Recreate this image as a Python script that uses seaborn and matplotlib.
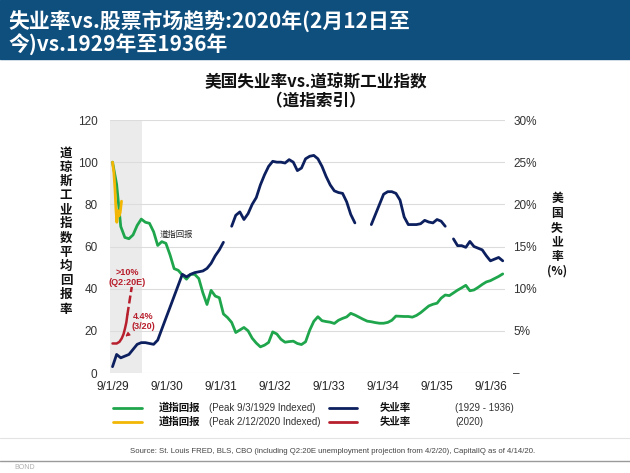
import numpy as np
import pandas as pd
import matplotlib
matplotlib.use("Agg")
import matplotlib.pyplot as plt
import seaborn as sns
from matplotlib.lines import Line2D
from matplotlib.patches import Rectangle

# ---------------- data ----------------
# sample times, months since the 9/3/1929 Dow peak (evenly spaced readings, ~0.91 month apart)
months_1929 = list(np.round(np.linspace(0, 86.7, 96), 2))
dow_1929 = [100, 89.5, 69.5, 64.3, 63.7, 65.5, 70, 73, 71.5, 71, 67, 60.5, 62.3, 61.5, 56, 49.5,
            48.7, 46.5, 44.5, 46.8, 46.8, 44.8, 38, 32.5, 39.2, 36.5, 35.7, 28, 26.3, 24, 19.2, 20.4,
            21.6, 20, 16.5, 14.2, 12.4, 13.2, 14.5, 19.5, 18.5, 16, 14.6, 14.9, 15.1, 14, 13.5, 14.8,
            20.3, 24.5, 26.7, 24.8, 24.4, 24.1, 23.5, 25, 25.9, 26.6, 28.3, 27.5, 26.5, 25.5, 24.6, 24.3,
            23.9, 23.6, 23.6, 24, 25, 27, 26.9, 26.8, 26.8, 26.5, 27.3, 28.6, 30.2, 31.8, 32.6, 33.1,
            35.5, 37, 36.7, 38, 39.3, 40.4, 41.6, 39, 39.4, 40.6, 42, 43.2, 43.8, 44.8, 45.8, 47]
nan = np.nan
unemp_1929 = [0.75, 2.2, 1.8, 2.0, 2.2, 2.8, 3.4, 3.6, 3.6, 3.5, 3.4, 3.9, 5.2, 6.5, 7.8, 9.1,
              10.4, 11.7, 11.4, 11.7, 11.9, 12.0, 12.1, 12.4, 13.0, 13.9, 14.6, 15.5, nan, 17.4, 18.7, 19.1,
              18.2, 18.9, 20.0, 20.8, 22.3, 23.5, 24.5, 25.1, 25.0, 25.0, 24.9, 25.3, 25.0, 24.0, 24.3, 25.4,
              25.7, 25.8, 25.4, 24.5, 23.3, 22.3, 21.6, 21.4, 21.3, 20.3, 18.8, 17.8, nan, nan, nan, 17.6,
              18.8, 20.0, 21.2, 21.5, 21.5, 21.3, 20.5, 18.5, 17.6, 17.6, 17.6, 17.7, 18.1, 17.9, 17.8, 18.2,
              18.0, 17.4, nan, 15.9, 15.1, 15.1, 14.9, 15.6, 15.0, 14.8, 14.6, 13.9, 13.3, 13.5, 13.7, 13.3]

# 2020 series, months since the 2/12/2020 peak
months_dow_2020 = [0, 0.3, 0.55, 0.75, 0.95, 1.2, 1.45, 1.7, 2.0]
dow_2020 = [100, 95, 87, 78, 71.5, 77, 74.5, 76, 81.5]
months_unemp_2020 = [0, 0.5, 0.93, 1.55, 2.04, 2.44, 2.78, 3.07, 3.3]
unemp_2020 = [3.5, 3.5, 3.5, 3.7, 4.1, 4.6, 5.3, 6.0, 6.9]
months_unemp_proj = [3.3, 4.27]
unemp_proj = [6.9, 10.2]

shade_span = [-0.56, 6.55]          # 2020 period shading (months)
xtick_months = [0, 12, 24, 36, 48, 60, 72, 84]
xtick_labels = ["9/1/29", "9/1/30", "9/1/31", "9/1/32", "9/1/33", "9/1/34", "9/1/35", "9/1/36"]
left_ticks = [0, 20, 40, 60, 80, 100, 120]
right_ticks = [0, 5, 10, 15, 20, 25, 30]
right_labels = ["–", "5%", "10%", "15%", "20%", "25%", "30%"]

# ---------------- style ----------------
GREEN = "#1fa64c"
NAVY = "#0c1f5e"
YELLOW = "#f2b705"
RED = "#b81f2d"
BANNER = "#0f4f7e"
CJK = ["Noto Sans CJK SC", "DejaVu Sans"]
LAT = ["Liberation Sans", "Noto Sans CJK SC", "DejaVu Sans"]

sns.set_theme(style="white")
plt.rcParams["font.family"] = LAT

W, H = 630, 473
fig = plt.figure(figsize=(W / 100, H / 100), dpi=100)
fig.patch.set_facecolor("white")

ax = fig.add_axes([110 / W, 1 - 373 / H, 395 / W, 253 / H])
ax2 = ax.twinx()

df29 = pd.DataFrame({"month": months_1929, "dow": dow_1929, "unemp": unemp_1929})
df29["seg"] = df29["unemp"].isna().cumsum()
dfu = df29.dropna(subset=["unemp"])
dfd20 = pd.DataFrame({"month": months_dow_2020, "dow": dow_2020})
dfu20 = pd.DataFrame({"month": months_unemp_2020, "unemp": unemp_2020})
dfp20 = pd.DataFrame({"month": months_unemp_proj, "unemp": unemp_proj})

ax.axvspan(shade_span[0], shade_span[1], color="#ebebeb", zorder=0, lw=0)
sns.lineplot(data=df29, x="month", y="dow", color=GREEN, lw=2.0, ax=ax, legend=False)
sns.lineplot(data=dfd20, x="month", y="dow", color=YELLOW, lw=2.0, ax=ax, legend=False)
sns.lineplot(data=dfu, x="month", y="unemp", units="seg", estimator=None, color=NAVY, lw=2.0,
             ax=ax2, legend=False)
sns.lineplot(data=dfu20, x="month", y="unemp", color=RED, lw=1.8, ax=ax2, legend=False)
sns.lineplot(data=dfp20, x="month", y="unemp", color=RED, lw=1.8, ax=ax2, legend=False,
             dashes=False, linestyle=(0, (3.2, 1.4)))

for a in (ax, ax2):
    a.set_xlim(-0.56, 87.2)
    for s in a.spines.values():
        s.set_visible(False)
    a.set_xlabel("")
    a.set_ylabel("")
ax.set_ylim(0, 120)
ax2.set_ylim(0, 30)
ax.set_yticks(left_ticks)
ax.set_yticklabels([str(t) for t in left_ticks])
ax2.set_yticks(right_ticks)
ax2.set_yticklabels(right_labels)
ax.set_xticks(xtick_months)
ax.set_xticklabels(xtick_labels)
ax.grid(axis="y", color="#dcdcdc", lw=0.8)
ax.grid(axis="x", visible=False)
ax2.grid(False)
ax.tick_params(axis="y", length=0, pad=9, labelsize=8.5, labelcolor="#333333")
ax.tick_params(axis="x", length=0, pad=6, labelsize=8.5, labelcolor="#222222")
ax2.tick_params(axis="y", length=0, pad=6, labelsize=8.5, labelcolor="#333333")
ax.set_zorder(1)
ax2.set_zorder(2)
ax.patch.set_visible(False)

# annotations
ax.text(10.55, 65.7, "道指回报", fontsize=6, color="#222222", family=CJK, va="center", ha="left")
ax2.text(3.33, 11.3, ">10%\n(Q2:20E)", fontsize=6.5, color=RED, fontweight="bold",
         ha="center", va="center", linespacing=1.1)
ax2.annotate("4.4%\n(3/20)", xy=(2.85, 4.3), xytext=(6.8, 6.1), fontsize=6.5, color=RED,
             fontweight="bold", ha="center", va="center", linespacing=1.1,
             arrowprops=dict(arrowstyle="-|>", color=RED, lw=0.9, linestyle=(0, (2, 1)),
                             mutation_scale=6, shrinkA=6, shrinkB=0))

# axis titles (stacked characters)
fig.text(66 / W, 1 - 231 / H, "\n".join("道琼斯工业指数平均回报率"), family=CJK, fontsize=9,
         fontweight="bold", ha="center", va="center", linespacing=1.12, color="#111111")
fig.text(557 / W, 1 - 235 / H, "\n".join(["美", "国", "失", "业", "率", "(%)"]), family=CJK,
         fontsize=8.5, fontweight="bold", ha="center", va="center", linespacing=1.15, color="#111111")

# banner
fig.add_artist(Rectangle((0, 1 - 59 / H), 1, 59 / H, transform=fig.transFigure,
                         color=BANNER, zorder=0))
fig.text(8 / W, 1 - 21 / H, "失业率vs.股票市场趋势:2020年(2月12日至", family=CJK, color="white",
         fontsize=15, fontweight="bold", va="center", ha="left")
fig.text(8 / W, 1 - 45 / H, "今)vs.1929年至1936年", family=CJK, color="white",
         fontsize=15, fontweight="bold", va="center", ha="left")

# chart title
fig.text(316 / W, 1 - 81 / H, "美国失业率vs.道琼斯工业指数", family=CJK, fontsize=12,
         fontweight="bold", ha="center", va="center", color="#111111")
fig.text(316 / W, 1 - 101 / H, "（道指索引）", family=CJK, fontsize=12,
         fontweight="bold", ha="center", va="center", color="#111111")

# legend (manual layout)
rows = [(408, GREEN, "(Peak 9/3/1929 Indexed)", NAVY, "(1929 - 1936)"),
        (422, YELLOW, "(Peak 2/12/2020 Indexed)", RED, "(2020)")]
for py, c1, t1, c2, t2 in rows:
    fy = 1 - py / H
    fig.add_artist(Line2D([113 / W, 142 / W], [fy, fy], transform=fig.transFigure, color=c1, lw=2))
    fig.text(159 / W, fy, "道指回报", family=CJK, fontsize=7.5, fontweight="bold", va="center",
             color="#111111")
    fig.text(209 / W, fy, t1, fontsize=7, va="center", color="#333333")
    fig.add_artist(Line2D([329 / W, 357 / W], [fy, fy], transform=fig.transFigure, color=c2, lw=2))
    fig.text(380 / W, fy, "失业率", family=CJK, fontsize=7.5, fontweight="bold", va="center",
             color="#111111")
    fig.text(455 / W, fy, t2, fontsize=7, va="center", color="#333333")

fig.add_artist(Line2D([0, 1], [1 - 438 / H, 1 - 438 / H], transform=fig.transFigure,
                      color="#e3e3e3", lw=0.8))
fig.text(333 / W, 1 - 451 / H,
         "Source: St. Louis FRED, BLS, CBO (including Q2:20E unemployment projection from 4/2/20), "
         "CapitalIQ as of 4/14/20.", fontsize=5.6, ha="center", va="center", color="#444444")
fig.add_artist(Line2D([0, 1], [1 - 461 / H, 1 - 461 / H], transform=fig.transFigure,
                      color="#9a9a9a", lw=1.0))
fig.text(14 / W, 1 - 467 / H, "BOND", fontsize=5, color="#b0b0b0", va="center")

fig.savefig("out.png", dpi=100)
